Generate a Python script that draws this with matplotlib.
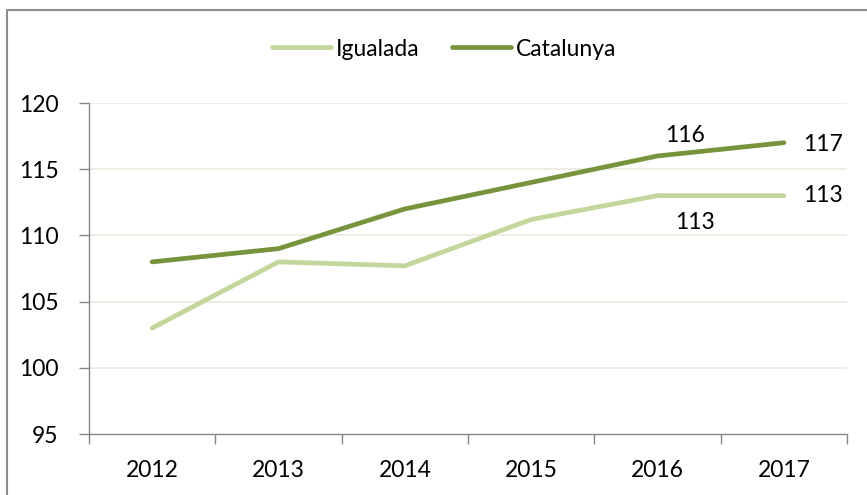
import matplotlib
matplotlib.use("Agg")
import matplotlib.pyplot as plt
from matplotlib.patches import Rectangle
from matplotlib.lines import Line2D

years = ["2012", "2013", "2014", "2015", "2016", "2017"]
igualada = [103, 108, 107.7, 111.2, 113, 113]
catalunya = [108, 109, 112, 114, 116, 117]
yticks = [95, 100, 105, 110, 115, 120]

c_ig = "#C3D69B"
c_cat = "#77933C"
axis_col = "#868686"
grid_col = "#EEECE1"

plt.rcParams['font.family'] = ['Lato', 'DejaVu Sans']
FS = 16.5

W, H = 867, 495
fig = plt.figure(figsize=(W/100, H/100), dpi=100)
fig.patches.append(Rectangle((7/W, -0.1), 1.2, (495-10)/H + 0.1, transform=fig.transFigure,
                             fill=False, edgecolor="#8c8c8c", linewidth=1.5))

ax = fig.add_axes([89/W, (H-434)/H, (847-89)/W, (434-103)/H])
x = list(range(len(years)))
ax.plot(x, igualada, color=c_ig, lw=3.4, solid_capstyle="round", solid_joinstyle="round", zorder=3)
ax.plot(x, catalunya, color=c_cat, lw=3.4, solid_capstyle="round", solid_joinstyle="round", zorder=3)

ax.set_xlim(-0.5, len(years) - 0.5)
ax.set_ylim(95, 120)
ax.set_yticks(yticks)
ax.set_yticklabels([str(v) for v in yticks], fontsize=FS)
ax.set_xticks(x)
ax.set_xticklabels(years, fontsize=FS)
ax.set_xticks([i - 0.5 for i in range(len(years) + 1)], minor=True)
ax.tick_params(axis="x", which="major", length=0, pad=19)
ax.tick_params(axis="x", which="minor", length=7, color=axis_col, width=1)
ax.tick_params(axis="y", length=7, color=axis_col, width=1, pad=15)
for v in yticks[1:]:
    ax.axhline(v, color=grid_col, lw=1.3, zorder=1)
for s in ["top", "right"]:
    ax.spines[s].set_visible(False)
for s in ["left", "bottom"]:
    ax.spines[s].set_color(axis_col)
    ax.spines[s].set_linewidth(1)

# data labels
ax.annotate(f"{catalunya[4]:.0f}", (4, catalunya[4]), xytext=(20, 15), textcoords="offset points",
            ha="center", va="center", fontsize=FS)
ax.annotate(f"{catalunya[5]:.0f}", (5, catalunya[5]), xytext=(14, -1), textcoords="offset points",
            ha="left", va="center", fontsize=FS)
ax.annotate(f"{igualada[5]:.0f}", (5, igualada[5]), xytext=(14, 0), textcoords="offset points",
            ha="left", va="center", fontsize=FS)
ax.annotate(f"{igualada[4]:.0f}", (4, igualada[4]), xytext=(27, -19), textcoords="offset points",
            ha="center", va="center", fontsize=FS)

handles = [Line2D([], [], color=c_ig, lw=3.4, solid_capstyle="round"),
           Line2D([], [], color=c_cat, lw=3.4, solid_capstyle="round")]
fig.legend(handles, ["Igualada", "Catalunya"], loc="center", bbox_to_anchor=(444/W, 1 - 49/H),
           ncol=2, frameon=False, fontsize=FS, handlelength=2.6, handletextpad=0.2,
           columnspacing=1.4)

fig.savefig("out.png", dpi=100)
